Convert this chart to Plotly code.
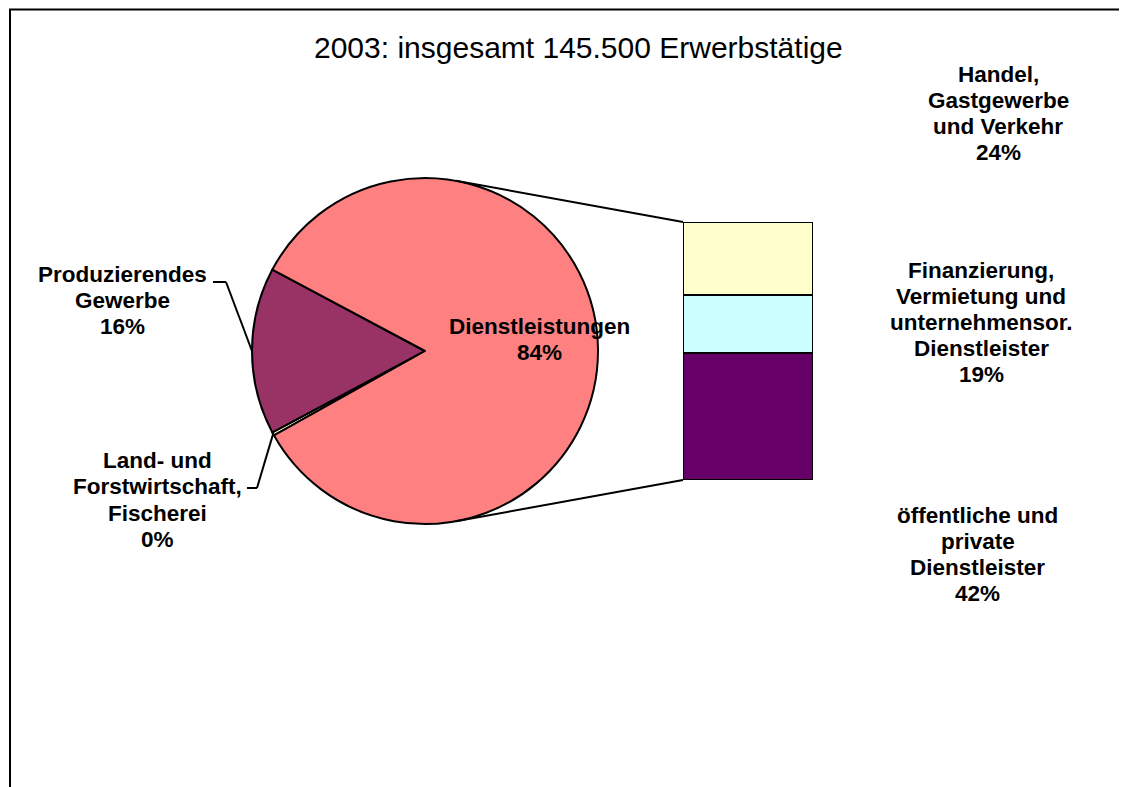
import math
import plotly.graph_objects as go

W, H = 1127, 787
OFF = 8                 # page body margin of the browser
FW, FH = W - OFF, H - OFF

# ---------------- data ----------------
title_text = "2003: insgesamt 145.500 Erwerbstätige"

pie_labels = ["Land- und Forstwirtschaft, Fischerei", "Produzierendes Gewerbe", "Dienstleistungen"]
pie_values = [0.3, 15.6, 84.1]
pie_pct_text = ["0%", "16%", "84%"]
pie_colors = ["#FFFFCC", "#993366", "#FF8080"]
pie_label_lines = [["Land- und", "Forstwirtschaft,", "Fischerei"],
                   ["Produzierendes", "Gewerbe"],
                   ["Dienstleistungen"]]

bar_labels = ["öffentliche und private Dienstleister",
              "Finanzierung, Vermietung und unternehmensor. Dienstleister",
              "Handel, Gastgewerbe und Verkehr"]
bar_values = [42, 19, 24]
bar_pct_text = ["42%", "19%", "24%"]
bar_colors = ["#660066", "#CCFFFF", "#FFFFCC"]
bar_label_lines = [["öffentliche und", "private", "Dienstleister"],
                   ["Finanzierung,", "Vermietung und", "unternehmensor.", "Dienstleister"],
                   ["Handel,", "Gastgewerbe", "und Verkehr"]]

# ---------------- layout geometry (screen pixels) ----------------
cx, cy, r = 425, 351, 173          # pie centre / radius
bx0, bx1, by0, by1 = 683, 813, 222, 480   # bar box
line_step = 26
font_family = "Liberation Sans, Arial, Helvetica, sans-serif"
lab_size = 22.5

pie_label_pos = [(157, 461), (122, 274), (539, 326)]
bar_label_pos = [(978, 515), (981, 270), (998, 75)]


def px(x):
    return (x - OFF) / FW


def py(y):
    return 1 - (y - OFF) / FH


total = sum(pie_values)
# Produzierendes Gewerbe centred on the left (9 o'clock), slices clockwise
rot = 270 - (pie_values[0] + pie_values[1] / 2) / total * 360

fig = go.Figure()

fig.add_trace(go.Pie(
    labels=pie_labels, values=pie_values, sort=False, direction="clockwise",
    rotation=rot, textinfo="none", hoverinfo="label+percent",
    marker=dict(colors=pie_colors, line=dict(color="black", width=2)),
    domain=dict(x=[px(cx - r), px(cx + r)], y=[py(cy + r), py(cy - r)]),
    showlegend=False,
))

for lab, val, col in zip(bar_labels, bar_values, bar_colors):
    fig.add_trace(go.Bar(
        x=[0], y=[val], name=lab, width=1,
        marker=dict(color=col, line=dict(color="black", width=2)),
        xaxis="x", yaxis="y", showlegend=False, hoverinfo="name+y",
    ))

shapes = []


def seg(x0, y0, x1, y1, w=2):
    shapes.append(dict(type="line", xref="paper", yref="paper",
                       x0=px(x0), y0=py(y0), x1=px(x1), y1=py(y1),
                       line=dict(color="black", width=w), layer="above"))


# frame (top and left edges)
seg(9, 9.5, W, 9.5, 2)
seg(10, 9, 10, H, 2)


def slice_mid_point(i):
    start = rot + sum(pie_values[:i]) / total * 360
    a = math.radians(start + pie_values[i] / total * 360 / 2)
    return cx + r * math.sin(a), cy - r * math.cos(a)


# leader lines
ex, ey = slice_mid_point(1)
seg(213, 282, 226, 282)
seg(226, 282, ex, ey)
ex, ey = slice_mid_point(0)
seg(247, 488, 257, 488)
seg(257, 488, ex, ey)


# connector lines: tangents from bar corners to pie
def tangent(pxx, pyy, upper):
    dx, dy = pxx - cx, cy - pyy
    d = math.hypot(dx, dy)
    base = math.atan2(dy, dx)
    off = math.acos(r / d)
    a = base + off if upper else base - off
    return cx + r * math.cos(a), cy - r * math.sin(a)


tx, ty = tangent(bx0, by0, True)
seg(tx, ty, bx0, by0, 2)
tx, ty = tangent(bx0, by1, False)
seg(tx, ty, bx0, by1, 2)

annotations = [dict(text=title_text, x=px(578), y=py(47), xref="paper", yref="paper",
                    showarrow=False, xanchor="center", yanchor="middle",
                    font=dict(family=font_family, size=30, color="black"))]


def add_label(lines, pct, pos):
    x0, y0 = pos
    for k, t in enumerate(lines + [pct]):
        annotations.append(dict(text="<b>" + t + "</b>", x=px(x0), y=py(y0 + k * line_step),
                                xref="paper", yref="paper", showarrow=False,
                                xanchor="center", yanchor="middle",
                                font=dict(family=font_family, size=lab_size, color="black")))


for lines, pct, pos in zip(pie_label_lines, pie_pct_text, pie_label_pos):
    add_label(lines, pct, pos)
for lines, pct, pos in zip(bar_label_lines, bar_pct_text, bar_label_pos):
    add_label(lines, pct, pos)

fig.update_layout(
    width=FW, height=FH, margin=dict(l=0, r=0, t=0, b=0),
    paper_bgcolor="white", plot_bgcolor="rgba(0,0,0,0)",
    barmode="stack", bargap=0,
    xaxis=dict(domain=[px(bx0), px(bx1)], range=[-0.5, 0.5], visible=False, fixedrange=True),
    yaxis=dict(domain=[py(by1), py(by0)], range=[0, sum(bar_values)], visible=False, fixedrange=True),
    shapes=shapes, annotations=annotations,
)

fig.write_html("out.html")
